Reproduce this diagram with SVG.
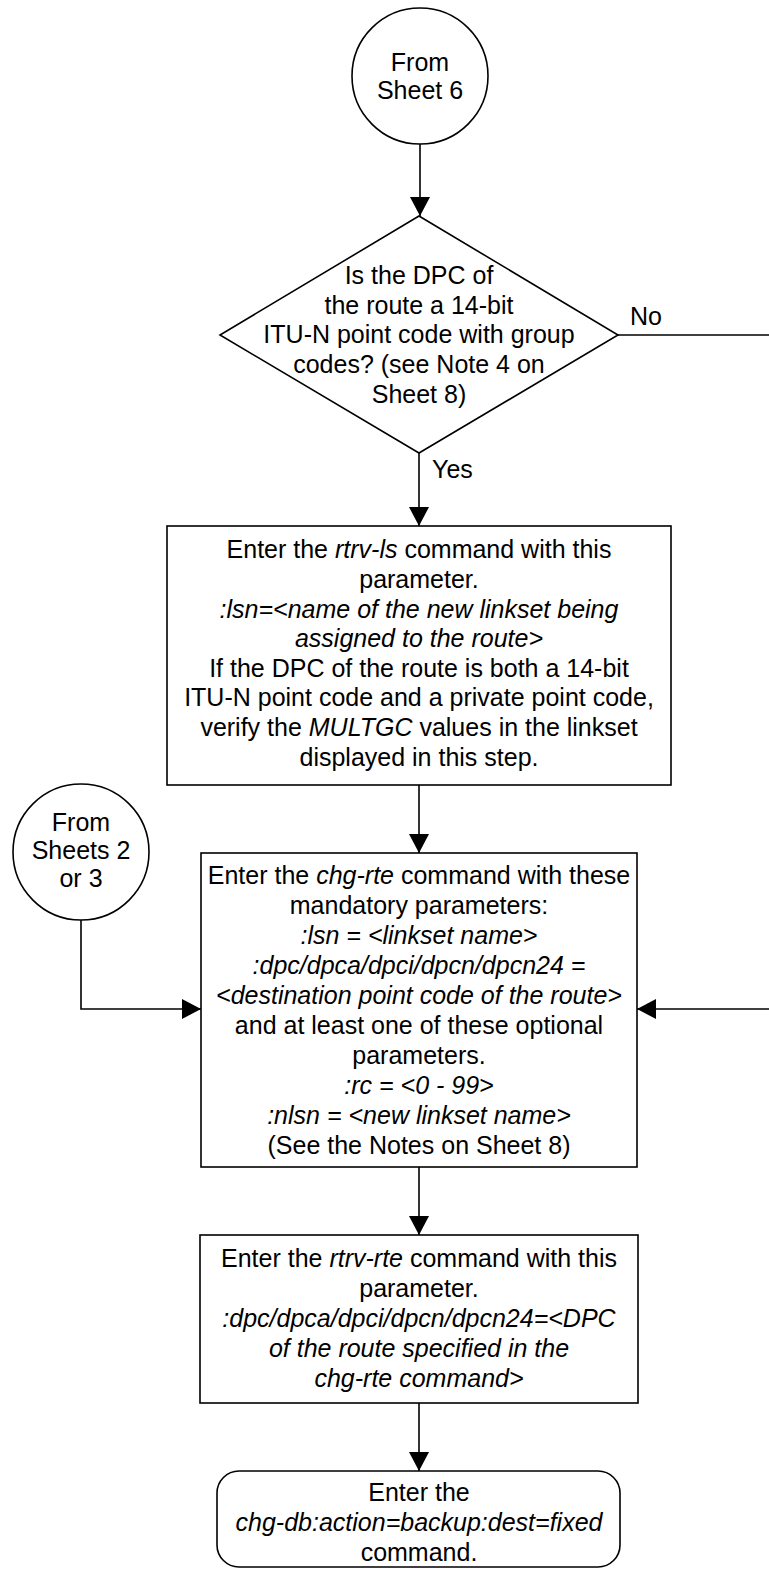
<svg xmlns="http://www.w3.org/2000/svg" width="769" height="1569" viewBox="0 0 769 1569">
<style>
text{font-family:"Liberation Sans",Arial,sans-serif;font-size:25px;fill:#000;text-anchor:middle}
.i{font-style:italic}
.shape{fill:#fff;stroke:#000;stroke-width:1.6}
.conn{fill:none;stroke:#000;stroke-width:1.6}
</style>
<defs>
<marker id="arr" markerUnits="userSpaceOnUse" markerWidth="20" markerHeight="20" viewBox="0 0 20 20" refX="19" refY="10" orient="auto">
<path d="M0,0 L19,10 L0,20 z" fill="#000"/>
</marker>
</defs>
<rect width="769" height="1569" fill="#fff"/>
<g id="connectors">
<line class="conn" x1="420" y1="144" x2="420" y2="216" marker-end="url(#arr)"/>
<line class="conn" x1="419" y1="453" x2="419" y2="526" marker-end="url(#arr)"/>
<line class="conn" x1="419" y1="785" x2="419" y2="853" marker-end="url(#arr)"/>
<line class="conn" x1="419" y1="1167" x2="419" y2="1235" marker-end="url(#arr)"/>
<line class="conn" x1="419" y1="1403" x2="419" y2="1471" marker-end="url(#arr)"/>
<polyline class="conn" points="81,920 81,1009 201,1009" marker-end="url(#arr)"/>
<line class="conn" x1="618" y1="335" x2="770" y2="335"/>
<line class="conn" x1="770" y1="1009" x2="637" y2="1009" marker-end="url(#arr)"/>
<text x="646" y="325">No</text>
<text x="432" y="478" style="text-anchor:start">Yes</text>
</g>
<g id="start">
<circle class="shape" cx="420" cy="76" r="68"/>
<text x="420" y="71">From</text>
<text x="420" y="99">Sheet 6</text>
</g>
<g id="decision">
<polygon class="shape" points="419,216 618,335 419,453 220,335"/>
<text x="419" y="284">Is the DPC of</text>
<text x="419" y="314">the route a 14-bit</text>
<text x="419" y="343">ITU-N point code with group</text>
<text x="419" y="373">codes? (see Note 4 on</text>
<text x="419" y="403">Sheet 8)</text>
</g>
<g id="rtrv-ls">
<rect class="shape" x="167" y="526" width="504" height="259"/>
<text x="419" y="558">Enter the <tspan class="i">rtrv-ls</tspan> command with this</text>
<text x="419" y="588">parameter.</text>
<text x="419" y="618" class="i">:lsn=&lt;name of the new linkset being</text>
<text x="419" y="647" class="i">assigned to the route&gt;</text>
<text x="419" y="677">If the DPC of the route is both a 14-bit</text>
<text x="419" y="706">ITU-N point code and a private point code,</text>
<text x="419" y="736">verify the <tspan class="i">MULTGC</tspan> values in the linkset</text>
<text x="419" y="766">displayed in this step.</text>
</g>
<g id="sheets23">
<circle class="shape" cx="81" cy="852" r="68"/>
<text x="81" y="831">From</text>
<text x="81" y="859">Sheets 2</text>
<text x="81" y="887">or 3</text>
</g>
<g id="chg-rte">
<rect class="shape" x="201" y="853" width="436" height="314"/>
<text x="419" y="884">Enter the <tspan class="i">chg-rte</tspan> command with these</text>
<text x="419" y="914">mandatory parameters:</text>
<text x="419" y="944" class="i">:lsn = &lt;linkset name&gt;</text>
<text x="419" y="974" class="i">:dpc/dpca/dpci/dpcn/dpcn24 =</text>
<text x="419" y="1004" class="i">&lt;destination point code of the route&gt;</text>
<text x="419" y="1034">and at least one of these optional</text>
<text x="419" y="1064">parameters.</text>
<text x="419" y="1094" class="i">:rc = &lt;0 - 99&gt;</text>
<text x="419" y="1124" class="i">:nlsn = &lt;new linkset name&gt;</text>
<text x="419" y="1154">(See the Notes on Sheet 8)</text>
</g>
<g id="rtrv-rte">
<rect class="shape" x="200" y="1235" width="438" height="168"/>
<text x="419" y="1267">Enter the <tspan class="i">rtrv-rte</tspan> command with this</text>
<text x="419" y="1297">parameter.</text>
<text x="419" y="1327" class="i">:dpc/dpca/dpci/dpcn/dpcn24=&lt;DPC</text>
<text x="419" y="1357" class="i">of the route specified in the</text>
<text x="419" y="1387" class="i">chg-rte command&gt;</text>
</g>
<g id="backup">
<rect class="shape" x="217" y="1471" width="403" height="96" rx="22" ry="22"/>
<text x="419" y="1501">Enter the</text>
<text x="419" y="1531" class="i">chg-db:action=backup:dest=fixed</text>
<text x="419" y="1561">command.</text>
</g>
</svg>
